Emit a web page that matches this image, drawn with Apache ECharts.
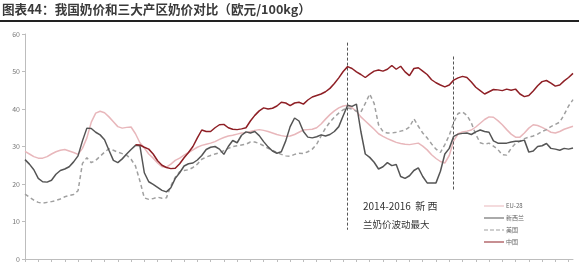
<!DOCTYPE html>
<html>
<head>
<meta charset="utf-8">
<script src="https://cdn.jsdelivr.net/npm/echarts@6/dist/echarts.min.js"></script>
<style>
html,body{margin:0;padding:0;background:#fff;}
#c{width:579px;height:264px;}
</style>
</head>
<body>
<div id="c"></div>
<script>
// Monthly, 2007-12 .. 2018-04 (125 points)
var startYear = 2007, startMonth = 12, monthCount = 125;
var categories = [];
(function(){ var y = startYear, m = startMonth; for (var i = 0; i < monthCount; i++) { categories.push(y + '-' + (m < 10 ? '0' + m : m)); m++; if (m > 12) { m = 1; y++; } } })();

var yTicks = { min: 0, max: 60, interval: 10 };

var euValues = [
28.7,28.0,27.3,26.9,26.9,27.3,28.0,28.6,29.0,29.2,28.8,28.4,27.9,29.5,32.3,36.5,38.9,39.4,39.0,37.9,
36.6,35.3,34.9,35.1,35.2,33.4,31.0,29.6,28.0,26.9,25.6,24.6,24.5,25.3,26.3,26.9,27.7,28.4,29.1,29.8,
30.3,30.6,30.9,31.3,31.9,32.4,32.8,33.0,33.3,33.6,33.7,34.0,34.3,34.5,34.3,34.0,33.6,33.2,32.9,32.7,
32.8,33.2,33.8,34.4,34.5,34.6,35.0,36.0,37.3,38.5,39.5,40.3,40.8,41.0,40.3,39.4,37.9,36.8,35.7,34.6,
33.4,32.7,32.1,31.6,31.1,30.8,30.6,30.5,30.7,30.9,30.1,29.1,27.8,26.8,26.0,25.6,27.6,31.5,33.4,33.9,
34.1,34.4,35.2,36.2,37.2,37.9,37.8,36.9,35.8,34.5,33.3,32.5,32.5,33.6,34.9,35.8,35.6,35.1,34.5,33.8,
33.6,34.0,34.6,35.0,35.4
];
var nzValues = [
26.5,25.3,23.8,21.5,20.6,20.5,21.0,22.6,23.6,24.0,24.6,25.9,27.5,31.5,34.9,34.8,33.8,33.1,31.8,29.0,
26.3,25.7,26.7,28.0,29.2,30.3,30.2,23.0,20.6,19.9,19.1,18.3,17.9,19.0,21.5,23.0,24.8,25.4,25.6,26.4,
27.6,29.2,29.8,30.0,29.3,27.9,30.0,31.6,31.0,33.0,33.9,33.6,34.0,32.9,31.3,29.9,28.8,28.2,28.6,31.5,
35.3,37.6,36.8,34.0,32.5,32.3,32.6,33.1,32.8,33.2,34.0,35.3,38.2,41.0,40.7,41.3,34.0,28.0,27.1,25.8,
24.0,24.6,25.7,24.9,25.2,22.0,21.5,22.2,23.6,24.3,22.0,20.3,20.3,20.3,23.4,28.0,29.5,32.7,33.3,33.5,
33.6,33.2,33.9,34.4,34.0,33.8,31.5,30.9,30.9,30.9,31.2,31.4,31.4,31.7,28.5,28.8,30.0,30.2,30.8,29.5,
29.3,29.0,29.5,29.3,29.6
];
var usValues = [
17.3,16.5,15.7,15.1,14.9,15.1,15.3,15.6,16.0,16.6,16.9,17.2,18.2,25.5,27.0,25.7,26.3,27.4,28.5,29.4,
29.0,28.5,28.1,27.7,26.6,24.8,20.8,16.3,15.9,16.1,16.5,16.2,16.3,19.5,21.8,23.3,23.6,23.8,24.4,25.3,
26.6,27.2,27.6,28.0,28.3,28.9,29.5,30.0,30.2,30.4,30.6,31.2,31.2,30.8,30.2,29.5,29.0,28.4,27.9,27.5,
27.4,27.9,28.2,28.1,28.6,29.3,30.6,32.8,34.9,36.5,37.8,38.9,39.8,40.3,40.0,39.4,39.2,41.5,44.0,41.5,
35.8,34.0,33.6,33.6,33.8,34.1,34.4,35.2,37.4,35.4,33.6,32.3,30.7,29.3,28.4,30.5,33.0,36.4,38.8,39.2,
38.3,36.3,33.2,31.0,30.6,30.9,30.1,29.2,27.8,27.7,29.5,30.8,31.4,32.1,32.5,32.8,33.3,34.0,34.5,35.3,
35.9,36.5,38.5,40.8,42.5
];
var cnValues = [
null,null,null,null,null,null,null,null,null,null,null,null,null,null,null,null,null,null,null,null,
null,null,null,null,null,30.5,30.4,29.8,29.3,28.0,26.2,25.0,24.4,24.1,24.2,25.4,27.0,28.4,30.0,32.3,
34.4,34.0,34.0,35.0,35.8,35.9,35.0,34.6,34.5,34.7,35.0,36.8,38.3,39.5,40.3,40.0,40.2,40.8,41.8,41.6,
40.9,41.6,41.8,41.3,42.4,43.2,43.6,44.0,44.6,45.5,46.8,48.3,50.0,51.3,50.8,49.9,49.2,48.4,49.3,50.1,
50.4,50.1,50.6,51.6,50.6,51.4,49.9,48.9,50.8,51.0,50.1,49.2,47.8,47.0,46.4,45.9,46.4,47.7,48.3,48.7,
48.4,47.2,45.8,44.9,44.0,44.6,45.2,45.1,44.9,45.3,45.0,45.3,44.0,43.3,43.6,44.8,46.2,47.3,47.6,46.9,
46.1,46.4,47.5,48.4,49.5
];
var seriesNames = ['EU-28', '新西兰', '美国', '中国'];
var periodMarks = [
  { cat: '2014-01', from: 57.7, to: 7.8 },
  { cat: '2016-01', from: 54.0, to: 18.5 }
];

var solidIcon = 'path://M0,0L20,0L20,1L0,1Z';
var dashIcon = 'path://M0,0h4v1h-4zM6,0h4v1h-4zM12,0h4v1h-4zM18,0h2v1h-2z';

var chart = echarts.init(document.getElementById('c'), null, { renderer: 'canvas' });
var fontCJK = '"Noto Sans CJK SC", "Noto Sans", sans-serif';
chart.setOption({
  animation: false,
  backgroundColor: '#fff',
  textStyle: { fontFamily: fontCJK },
  grid: { left: 25, right: 6, top: 34, bottom: 5, containLabel: false },
  legend: {
    orient: 'vertical', left: 479, top: 198,
    itemWidth: 20, itemHeight: 2, itemGap: 6,
    textStyle: { fontSize: 6, color: '#666', padding: [0, 0, 0, -3] },
    data: [
      { name: seriesNames[0], icon: solidIcon, itemStyle: { color: '#e8b7bb' } },
      { name: seriesNames[1], icon: solidIcon, itemStyle: { color: '#555' } },
      { name: seriesNames[2], icon: dashIcon, itemStyle: { color: '#a0a0a0' } },
      { name: seriesNames[3], icon: solidIcon, itemStyle: { color: '#8e1f25' } }
    ]
  },
  xAxis: {
    type: 'category', data: categories, boundaryGap: false,
    axisLine: { lineStyle: { color: '#bdbdbd', width: 1 } },
    axisTick: { show: true, interval: 2, length: 3, lineStyle: { color: '#bdbdbd' } },
    axisLabel: { show: false },
    splitLine: { show: false }
  },
  yAxis: {
    type: 'value', min: yTicks.min, max: yTicks.max, interval: yTicks.interval,
    axisLine: { show: true, lineStyle: { color: '#bdbdbd', width: 1 } },
    axisTick: { show: true, length: 3, lineStyle: { color: '#bdbdbd' } },
    axisLabel: { fontSize: 7, color: '#777', margin: 5 },
    splitLine: { show: false }
  },
  graphic: [
    { type: 'text', left: 2, top: 3, style: { text: '图表44：我国奶价和三大产区奶价对比（欧元/100kg）', fontSize: 12.6, fill: '#3a3a3a', fontFamily: fontCJK, fontWeight: 'bold' } },
    { type: 'rect', left: 0, top: 20, shape: { width: 579, height: 2 }, style: { fill: '#222' } },
    { type: 'text', left: 363, top: 201, style: { text: '2014-2016  新 西', fontSize: 10, fill: '#333', fontFamily: fontCJK } },
    { type: 'text', left: 363, top: 220, style: { text: '兰奶价波动最大', fontSize: 9.5, fill: '#333', fontFamily: fontCJK } }
  ],
  series: [
    { name: seriesNames[0], type: 'line', data: euValues, symbol: 'none', z: 2,
      lineStyle: { color: '#e8b7bb', width: 1.5 }, itemStyle: { color: '#e8b7bb' } },
    { name: seriesNames[1], type: 'line', data: nzValues, symbol: 'none', z: 4,
      lineStyle: { color: '#555', width: 1.5 }, itemStyle: { color: '#555' },
      markLine: {
        silent: true, symbol: 'none', label: { show: false },
        lineStyle: { color: '#555', type: [3, 2], width: 1 },
        data: periodMarks.map(function (p) { return [{ coord: [p.cat, p.from] }, { coord: [p.cat, p.to] }]; })
      } },
    { name: seriesNames[2], type: 'line', data: usValues, symbol: 'none', z: 3,
      lineStyle: { color: '#a0a0a0', width: 1.5, type: [4, 3] }, itemStyle: { color: '#a0a0a0' } },
    { name: seriesNames[3], type: 'line', data: cnValues, symbol: 'none', z: 5, connectNulls: false,
      lineStyle: { color: '#8e1f25', width: 1.5 }, itemStyle: { color: '#8e1f25' } }
  ]
});
</script>
</body>
</html>
